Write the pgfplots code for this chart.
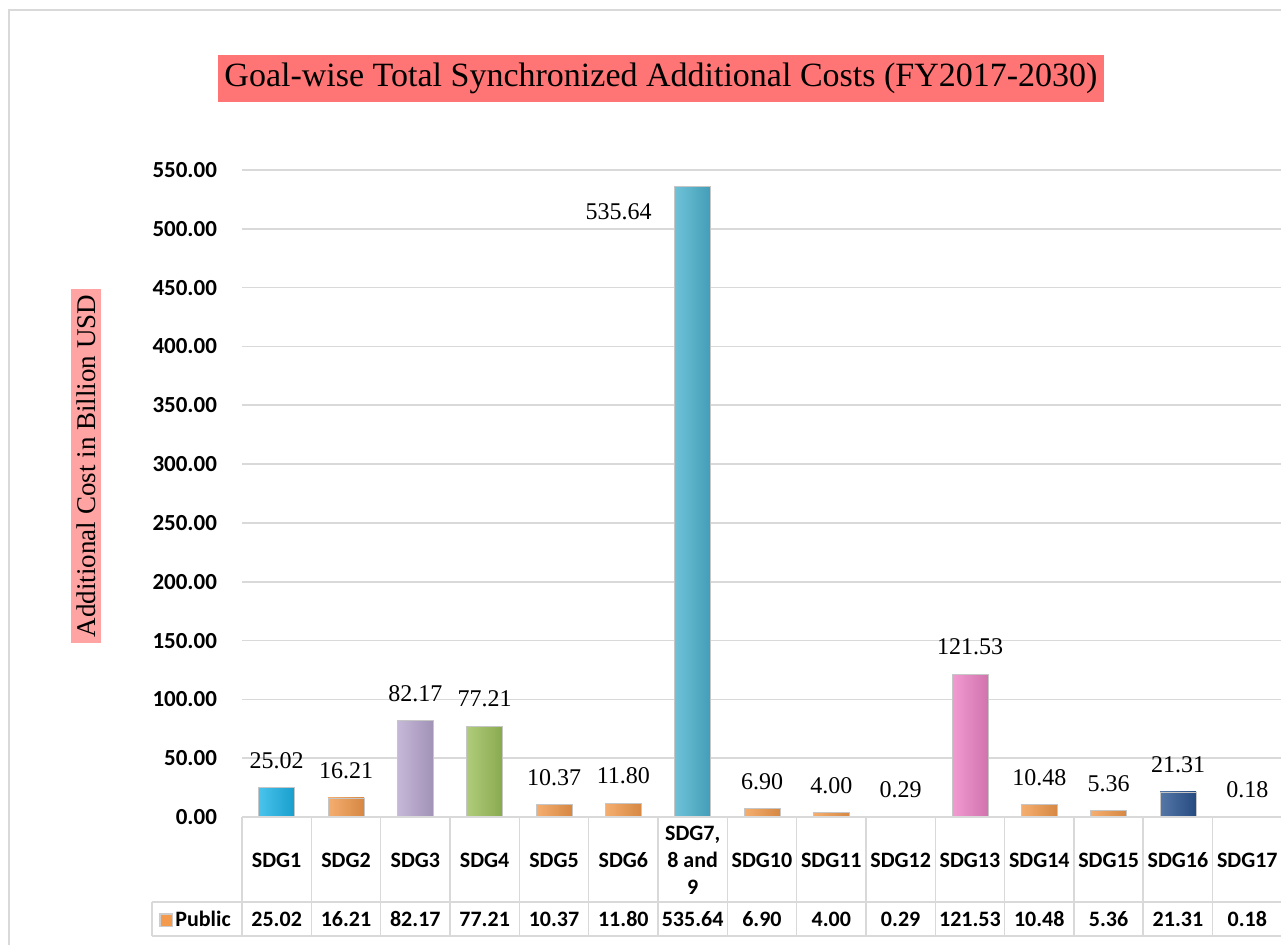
\documentclass[border=0pt]{standalone}
\usepackage{pgfplots}
\pgfplotsset{compat=1.18}
\usepackage{fontspec}
\setmainfont{Liberation Serif}
\newfontfamily\calfont{Carlito}

\definecolor{titlebox}{HTML}{FF7575}
\definecolor{labelbox}{HTML}{FFA3A3}
\definecolor{gridgray}{HTML}{D9D9D9}
\definecolor{cCyan}{HTML}{1CB4E8}
\definecolor{cOrange}{HTML}{F39A4C}
\definecolor{cPurple}{HTML}{B7A6CF}
\definecolor{cGreen}{HTML}{9CC05A}
\definecolor{cAqua}{HTML}{4BB3CF}
\definecolor{cPink}{HTML}{EE82C5}
\definecolor{cNavy}{HTML}{2B5592}
\definecolor{cTiny}{HTML}{D0D0D0}

\pgfplotsset{
  sbar/.style={ybar, bar width=18pt, bar shift=0pt, draw=gray!45, line width=0.4pt,
    left color=#1!80!white, right color=#1!88!black},
}

\begin{document}
\begin{tikzpicture}
\useasboundingbox (0,0) rectangle (640.5pt,472pt);

\begin{axis}[
  at={(121pt,63.5pt)}, anchor=south west,
  scale only axis, width=520pt, height=323.5pt,
  xmin=-0.5, xmax=14.5, ymin=0, ymax=550,
  xtick=\empty,
  ytick distance=50,
  ymajorgrids=true,
  grid style={gridgray, line width=0.8pt},
  axis line style={draw=none},
  major tick length=0pt,
  yticklabel style={font=\calfont\bfseries\fontsize{11.5}{13}\selectfont, xshift=-9pt,
    /pgf/number format/.cd, fixed, fixed zerofill, precision=2, assume math mode=true},
  clip=false,
  nodes near coords={\pgfmathprintnumber[fixed,fixed zerofill,precision=2,assume math mode=true]{\pgfplotspointmeta}},
  nodes near coords style={font=\fontsize{12}{14}\selectfont, anchor=center, yshift=13.5pt, text=black},
]
\addplot[sbar=cCyan]   coordinates {(0,25.02)};
\addplot[sbar=cOrange] coordinates {(1,16.21)};
\addplot[sbar=cPurple] coordinates {(2,82.17)};
\addplot[sbar=cGreen]  coordinates {(3,77.21)};
\addplot[sbar=cOrange] coordinates {(4,10.37)};
\addplot[sbar=cOrange] coordinates {(5,11.80)};
\addplot[sbar=cAqua, nodes near coords style={xshift=-37pt, yshift=-26pt}] coordinates {(6,535.64)};
\addplot[sbar=cOrange] coordinates {(7,6.90)};
\addplot[sbar=cOrange] coordinates {(8,4.00)};
\addplot[sbar=cTiny]   coordinates {(9,0.29)};
\addplot[sbar=cPink]   coordinates {(10,121.53)};
\addplot[sbar=cOrange] coordinates {(11,10.48)};
\addplot[sbar=cOrange] coordinates {(12,5.36)};
\addplot[sbar=cNavy]   coordinates {(13,21.31)};
\addplot[sbar=cTiny]   coordinates {(14,0.18)};
\end{axis}

% overlay in reference pixel units (origin top left)
\begin{scope}[x=0.5pt, y=-0.5pt, yshift=472pt]
  % outer chart frame
  \draw[gridgray, line width=0.8pt] (9,10) rectangle (1300,960);
  % title
  \node[fill=titlebox, inner xsep=3pt, inner ysep=4pt, font=\fontsize{17}{20}\selectfont]
    at (661,78.5) {Goal-wise Total Synchronized Additional Costs (FY2017-2030)};
  % y label
  \node[fill=labelbox, rotate=90, inner xsep=3pt, inner ysep=3pt, font=\fontsize{13.5}{16}\selectfont]
    at (86,466) {Additional Cost in Billion USD};
  % data table
  \begin{scope}[gridgray, line width=0.8pt]
    \draw (242,817) -- (1281,817);
    \draw (152,902) -- (1281,902);
    \draw (152,936) -- (1281,936);
    \draw (152,902) -- (152,936);
    \foreach \i in {0,...,15} \draw ({242+69.33*\i},817) -- ({242+69.33*\i},936);
  \end{scope}
  \foreach \n [count=\i from 0] in {SDG1,SDG2,SDG3,SDG4,SDG5,SDG6,{SDG7,\\8 and\\9},SDG10,SDG11,SDG12,SDG13,SDG14,SDG15,SDG16,SDG17}
    \node[align=center, font=\calfont\bfseries\fontsize{11}{13.5}\selectfont] at ({242+69.33*(\i+0.5)},860) {\n};
  \foreach \v [count=\i from 0] in {25.02,16.21,82.17,77.21,10.37,11.80,535.64,6.90,4.00,0.29,121.53,10.48,5.36,21.31,0.18}
    \node[font=\calfont\bfseries\fontsize{11}{12}\selectfont] at ({242+69.33*(\i+0.5)},919) {\v};
  % legend cell
  \fill[gray!40] (159,913) rectangle (173,927);
  \fill[cOrange] (160.5,914.5) rectangle (171.5,925.5);
  \node[anchor=west, inner sep=0pt, font=\calfont\bfseries\fontsize{11}{12}\selectfont] at (175,919) {Public};
\end{scope}
\end{tikzpicture}
\end{document}
